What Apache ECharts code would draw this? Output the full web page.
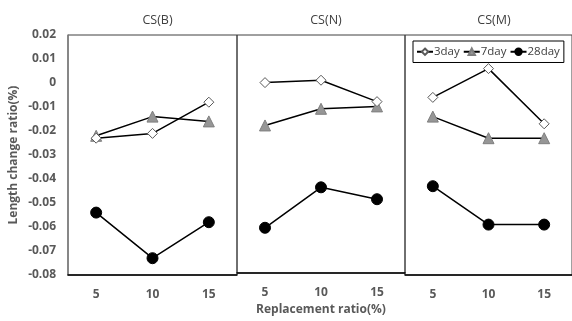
<!DOCTYPE html>
<html><head><meta charset="utf-8">
<script src="https://cdn.jsdelivr.net/npm/echarts@6/dist/echarts.min.js"></script>
<style>html,body{margin:0;padding:0;background:#fff}#c{width:572px;height:321px}</style>
</head><body><div id="c"></div>
<script>
const panels = ['CS(B)', 'CS(N)', 'CS(M)'];
const categories = ['5', '10', '15'];
const yTicks = [-0.08, 0.02, 0.01];
const day3 = [[-0.023, -0.021, -0.008], [0.000, 0.001, -0.008], [-0.006, 0.006, -0.017]];
const day7 = [[-0.022, -0.014, -0.016], [-0.018, -0.011, -0.010], [-0.014, -0.023, -0.023]];
const day28 = [[-0.054, -0.073, -0.058], [-0.061, -0.044, -0.049], [-0.043, -0.059, -0.059]];
const seriesNames = ['3day', '7day', '28day'];

const FONT = '"Open Sans", "Noto Sans CJK KR", sans-serif';
const lefts = [68, 237, 405];
const widths = [169, 168, 168];
const grids = [], xAxes = [], yAxes = [], series = [], titles = [];
for (let i = 0; i < 3; i++) {
  grids.push({left: lefts[i], top: 35, width: widths[i], height: 240, show: true, borderColor: '#404040', borderWidth: 1, containLabel: false});
  titles.push({text: panels[i], left: lefts[i] + widths[i] / 2, top: 9, textAlign: 'center',
    textStyle: {fontFamily: FONT, fontSize: 12.5, fontWeight: 'normal', color: '#404040'}});
  xAxes.push({type: 'category', gridIndex: i, data: categories, boundaryGap: true,
    axisLine: {show: true, onZero: false, lineStyle: {color: '#000', width: 1.5}}, axisTick: {show: false},
    axisLabel: {fontFamily: FONT, fontSize: 12, fontWeight: 'bold', color: '#595959', margin: 14},
    name: i === 1 ? 'Replacement ratio(%)' : '', nameLocation: 'middle', nameGap: 31,
    nameTextStyle: {fontFamily: FONT, fontSize: 12, fontWeight: 'bold', color: '#595959'}});
  yAxes.push({type: 'value', gridIndex: i, min: yTicks[0], max: yTicks[1], interval: yTicks[2],
    splitLine: {show: false}, axisTick: {show: false},
    axisLine: {show: i === 0, lineStyle: {color: '#7f7f7f', width: 1.5}},
    axisLabel: {show: i === 0, fontFamily: FONT, fontSize: 12, fontWeight: 'bold', color: '#595959', margin: 12,
      formatter: v => String(+v.toFixed(2))},
    name: i === 0 ? 'Length change ratio(%)' : '', nameLocation: 'middle', nameGap: 48,
    nameTextStyle: {fontFamily: FONT, fontSize: 12, fontWeight: 'bold', color: '#595959'}});
  const common = {type: 'line', xAxisIndex: i, yAxisIndex: i, lineStyle: {color: '#000', width: 1.5}, z: 3};
  series.push(Object.assign({}, common, {name: seriesNames[0], data: day3[i], symbol: 'diamond', symbolSize: 10,
    itemStyle: {color: '#fff', borderColor: '#595959', borderWidth: 1}, z: 5}));
  series.push(Object.assign({}, common, {name: seriesNames[1], data: day7[i], symbol: 'triangle', symbolSize: 11,
    itemStyle: {color: '#969696', borderColor: '#7f7f7f', borderWidth: 1}, z: 4}));
  series.push(Object.assign({}, common, {name: seriesNames[2], data: day28[i], symbol: 'circle', symbolSize: 11,
    itemStyle: {color: '#000', borderColor: '#000', borderWidth: 1}}));
}
const chart = echarts.init(document.getElementById('c'), null, {renderer: 'canvas'});
chart.setOption({
  animation: false,
  backgroundColor: '#fff',
  title: titles,
  grid: grids, xAxis: xAxes, yAxis: yAxes, series: series,
  legend: {data: seriesNames, left: 413, top: 41, width: 160, itemWidth: 16, itemHeight: 8, itemGap: 3,
    padding: [5, 4, 5, 3], borderColor: '#000', borderWidth: 1, backgroundColor: '#fff',
    textStyle: {fontFamily: FONT, fontSize: 11.5, color: '#404040', padding: [0, 0, 0, -4]}}
});
</script></body></html>
